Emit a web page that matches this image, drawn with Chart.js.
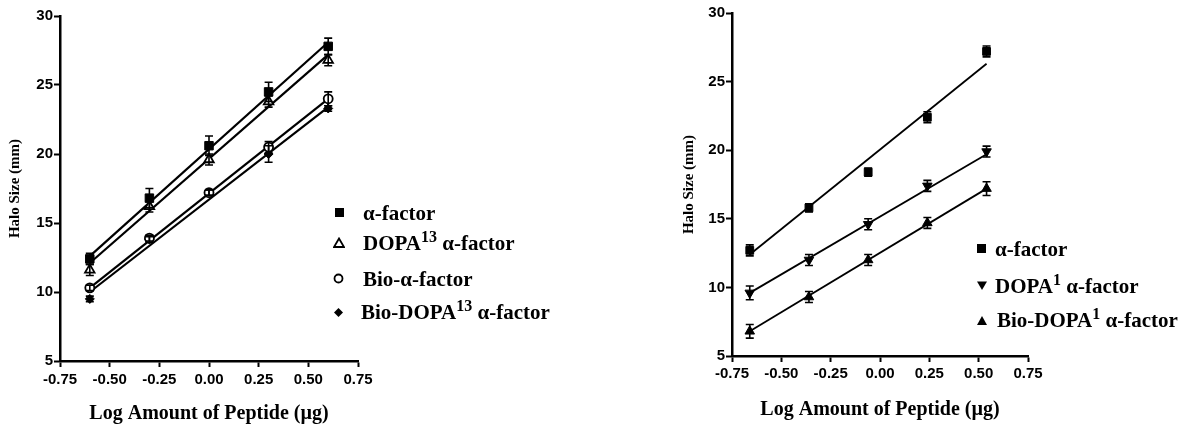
<!DOCTYPE html>
<html>
<head>
<meta charset="utf-8">
<script src="https://cdn.jsdelivr.net/npm/chart.js@4.4.0/dist/chart.umd.min.js"></script>
<style>
  html,body{margin:0;padding:0;background:#fff;}
  body{width:1189px;height:428px;position:relative;overflow:hidden;}
  canvas{position:absolute;top:0;}
  .legend{position:absolute;font-family:"Liberation Serif","Times New Roman",serif;font-weight:bold;font-size:21px;color:#000;}
  .legend .row{position:absolute;white-space:nowrap;line-height:20px;}
  .legend svg{position:absolute;}
  .legend sup{font-size:16px;vertical-align:0;position:relative;top:-8px;}
</style>
</head>
<body>
<canvas id="c1" width="380" height="428" style="left:0;width:380px;height:428px"></canvas>
<canvas id="c2" width="370" height="428" style="left:680px;width:370px;height:428px"></canvas>

<div class="legend" style="left:0;top:0;">
  <svg style="left:334px;top:207px" width="11" height="11"><rect x="1" y="1" width="9" height="9" fill="#000"/></svg>
  <div class="row" style="left:363px;top:203px">α-factor</div>
  <svg style="left:333px;top:237px" width="12" height="11"><polygon points="6,1.5 11,10 1,10" fill="#fff" stroke="#000" stroke-width="1.8"/></svg>
  <div class="row" style="left:363px;top:233px">DOPA<sup>13</sup> α-factor</div>
  <svg style="left:333px;top:273px" width="11" height="11"><circle cx="5.5" cy="5.5" r="4" fill="#fff" stroke="#000" stroke-width="1.8"/></svg>
  <div class="row" style="left:363px;top:269px">Bio-α-factor</div>
  <svg style="left:333px;top:307px" width="11" height="11"><polygon points="5.5,1 10,5.5 5.5,10 1,5.5" fill="#000"/></svg>
  <div class="row" style="left:361px;top:302px">Bio-DOPA<sup>13</sup> α-factor</div>
</div>

<div class="legend" style="left:0;top:0;">
  <svg style="left:976px;top:243px" width="11" height="11"><rect x="1" y="1" width="9" height="9" fill="#000"/></svg>
  <div class="row" style="left:995px;top:239px">α-factor</div>
  <svg style="left:976px;top:280px" width="12" height="11"><polygon points="1,1.5 11,1.5 6,10" fill="#000"/></svg>
  <div class="row" style="left:995px;top:276px">DOPA<sup>1</sup> α-factor</div>
  <svg style="left:976px;top:315px" width="12" height="11"><polygon points="6,1 11,10 1,10" fill="#000"/></svg>
  <div class="row" style="left:997px;top:310px">Bio-DOPA<sup>1</sup> α-factor</div>
</div>

<script>
// ---------- Left panel data ----------
const leftX = [-0.6, -0.3, 0.0, 0.3, 0.6];
const leftAlpha      = [12.4, 16.8, 20.6, 24.5, 27.8];
const leftAlphaErr   = [0.4, 0.7, 0.7, 0.7, 0.6];
const leftDopa13     = [11.6, 16.2, 19.6, 23.8, 26.8];
const leftDopa13Err  = [0.4, 0.4, 0.4, 0.4, 0.4];
const leftBio        = [10.3, 13.9, 17.2, 20.5, 24.0];
const leftBioErr     = [0.2, 0.2, 0.2, 0.4, 0.5];
const leftBioDopa13  = [9.5, 13.8, 17.2, 20.0, 23.3];
const leftBioDopa13Err = [0.2, 0.2, 0.2, 0.6, 0.2];
// fitted line end values (at first and last x)
const leftFitX = [-0.6, 0.6];
const leftFitAlpha     = [12.6, 28.1];
const leftFitDopa13    = [12.1, 27.2];
const leftFitBio       = [10.3, 24.0];
const leftFitBioDopa13 = [10.0, 23.4];

// ---------- Right panel data ----------
const rightX = [-0.66, -0.36, -0.06, 0.24, 0.54];
const rightAlpha       = [12.7, 15.8, 18.4, 22.4, 27.2];
const rightAlphaErr    = [0.4, 0.3, 0.3, 0.4, 0.4];
const rightDopa1       = [9.6, 12.0, 14.6, 17.4, 19.9];
const rightDopa1Err    = [0.5, 0.4, 0.4, 0.4, 0.4];
const rightBioDopa1    = [6.8, 9.3, 12.0, 14.7, 17.2];
const rightBioDopa1Err = [0.5, 0.4, 0.4, 0.4, 0.5];
const rightFitX = [-0.66, 0.54];
const rightFitAlpha    = [12.4, 26.3];
const rightFitDopa1    = [9.6, 19.7];
const rightFitBioDopa1 = [6.8, 17.2];

// ---------- tick settings ----------
const xTickMin = -0.75, xTickMax = 0.75, xTickStep = 0.25;
const yTickMin = 5, yTickMax = 30, yTickStep = 5;

const TICK_FONT = {family: "'Liberation Sans Narrow','Liberation Sans',Arial,sans-serif", size: 15, weight: 'bold'};
const TITLE_FONT = {family: "'Liberation Serif','Times New Roman',serif", size: 20, weight: 'bold'};

const pts = (xs, ys) => xs.map((x, i) => ({x, y: ys[i]}));

const errorBarPlugin = {
  id: 'errorBars',
  afterDatasetsDraw(chart) {
    const ctx = chart.ctx, xs = chart.scales.x, ys = chart.scales.y;
    chart.data.datasets.forEach((ds) => {
      if (!ds.errors) return;
      ctx.save();
      ctx.strokeStyle = '#000';
      ctx.lineWidth = 1.6;
      ds.data.forEach((p, i) => {
        const e = ds.errors[i];
        if (!e) return;
        const px = xs.getPixelForValue(p.x);
        const y1 = ys.getPixelForValue(p.y + e), y2 = ys.getPixelForValue(p.y - e);
        ctx.beginPath();
        ctx.moveTo(px, y1); ctx.lineTo(px, y2);
        ctx.moveTo(px - 4, y1); ctx.lineTo(px + 4, y1);
        ctx.moveTo(px - 4, y2); ctx.lineTo(px + 4, y2);
        ctx.stroke();
      });
      ctx.restore();
    });
  }
};

function scatterDS(xs, ys, errs, style, filled, rot, radius) {
  return {
    type: 'scatter', data: pts(xs, ys), errors: errs, order: 1,
    pointStyle: style, rotation: rot || 0, pointRadius: radius || 4.5,
    backgroundColor: filled ? '#000' : '#fff', borderColor: '#000', borderWidth: filled ? 1 : 1.8
  };
}
function lineDS(xs, ys, w) {
  return {type: 'line', data: pts(xs, ys), order: 2, borderColor: '#000', borderWidth: w, pointRadius: 0, fill: false, tension: 0};
}

function makeOptions(cfg) {
  return {
    responsive: false, animation: false, events: [],
    layout: {padding: {top: cfg.top, right: cfg.right, left: 0, bottom: 0}},
    plugins: {legend: {display: false}, tooltip: {enabled: false}},
    scales: {
      x: {
        type: 'linear', min: xTickMin, max: xTickMax,
        afterBuildTicks(s) { const t = []; for (let v = xTickMin; v <= xTickMax + 1e-9; v += xTickStep) t.push({value: +v.toFixed(2)}); s.ticks = t; },
        afterFit(s) { s.height = cfg.xh; },
        ticks: {color: '#000', font: TICK_FONT, padding: cfg.xpad, maxRotation: 0, autoSkip: false, callback: v => v.toFixed(2)},
        grid: {drawOnChartArea: false, drawTicks: true, tickLength: 6, tickWidth: 2, tickColor: '#000'},
        border: {display: true, color: '#000', width: 2.5},
        title: {display: true, text: 'Log Amount of Peptide (µg)', color: '#000', font: TITLE_FONT, padding: {top: 0, bottom: cfg.xtpad}}
      },
      y: {
        type: 'linear', min: yTickMin, max: yTickMax,
        afterBuildTicks(s) { const t = []; for (let v = yTickMin; v <= yTickMax; v += yTickStep) t.push({value: v}); s.ticks = t; },
        afterFit(s) { s.width = cfg.yw; },
        ticks: {color: '#000', font: TICK_FONT, padding: 1, autoSkip: false},
        grid: {drawOnChartArea: false, drawTicks: true, tickLength: 6, tickWidth: 2, tickColor: '#000'},
        border: {display: true, color: '#000', width: 2.5},
        title: {display: true, text: 'Halo Size (mm)', color: '#000', font: {...TITLE_FONT, size: 15}, padding: {top: cfg.ytpad, bottom: 0}}
      }
    }
  };
}

new Chart(document.getElementById('c1'), {
  data: {datasets: [
    lineDS(leftFitX, leftFitAlpha, 2.2),
    lineDS(leftFitX, leftFitDopa13, 2.2),
    lineDS(leftFitX, leftFitBio, 2.2),
    lineDS(leftFitX, leftFitBioDopa13, 2.2),
    scatterDS(leftX, leftAlpha, leftAlphaErr, 'rect', true, 0, 6),
    scatterDS(leftX, leftDopa13, leftDopa13Err, 'triangle', false, 0, 5.5),
    scatterDS(leftX, leftBio, leftBioErr, 'circle', false, 0, 4.5),
    scatterDS(leftX, leftBioDopa13, leftBioDopa13Err, 'rectRot', true, 0, 4.5)
  ]},
  options: makeOptions({top: 16, right: 22, xh: 67, yw: 60, xpad: 4, xtpad: 2, ytpad: 6}),
  plugins: [errorBarPlugin]
});

new Chart(document.getElementById('c2'), {
  data: {datasets: [
    lineDS(rightFitX, rightFitAlpha, 1.8),
    lineDS(rightFitX, rightFitDopa1, 1.8),
    lineDS(rightFitX, rightFitBioDopa1, 1.8),
    scatterDS(rightX, rightAlpha, rightAlphaErr, 'rect', true, 0, 5.5),
    scatterDS(rightX, rightDopa1, rightDopa1Err, 'triangle', true, 180, 5.5),
    scatterDS(rightX, rightBioDopa1, rightBioDopa1Err, 'triangle', true, 0, 5.5)
  ]},
  options: makeOptions({top: 13, right: 22, xh: 72, yw: 52, xpad: 3, xtpad: 6, ytpad: 0}),
  plugins: [errorBarPlugin]
});
</script>
</body>
</html>
